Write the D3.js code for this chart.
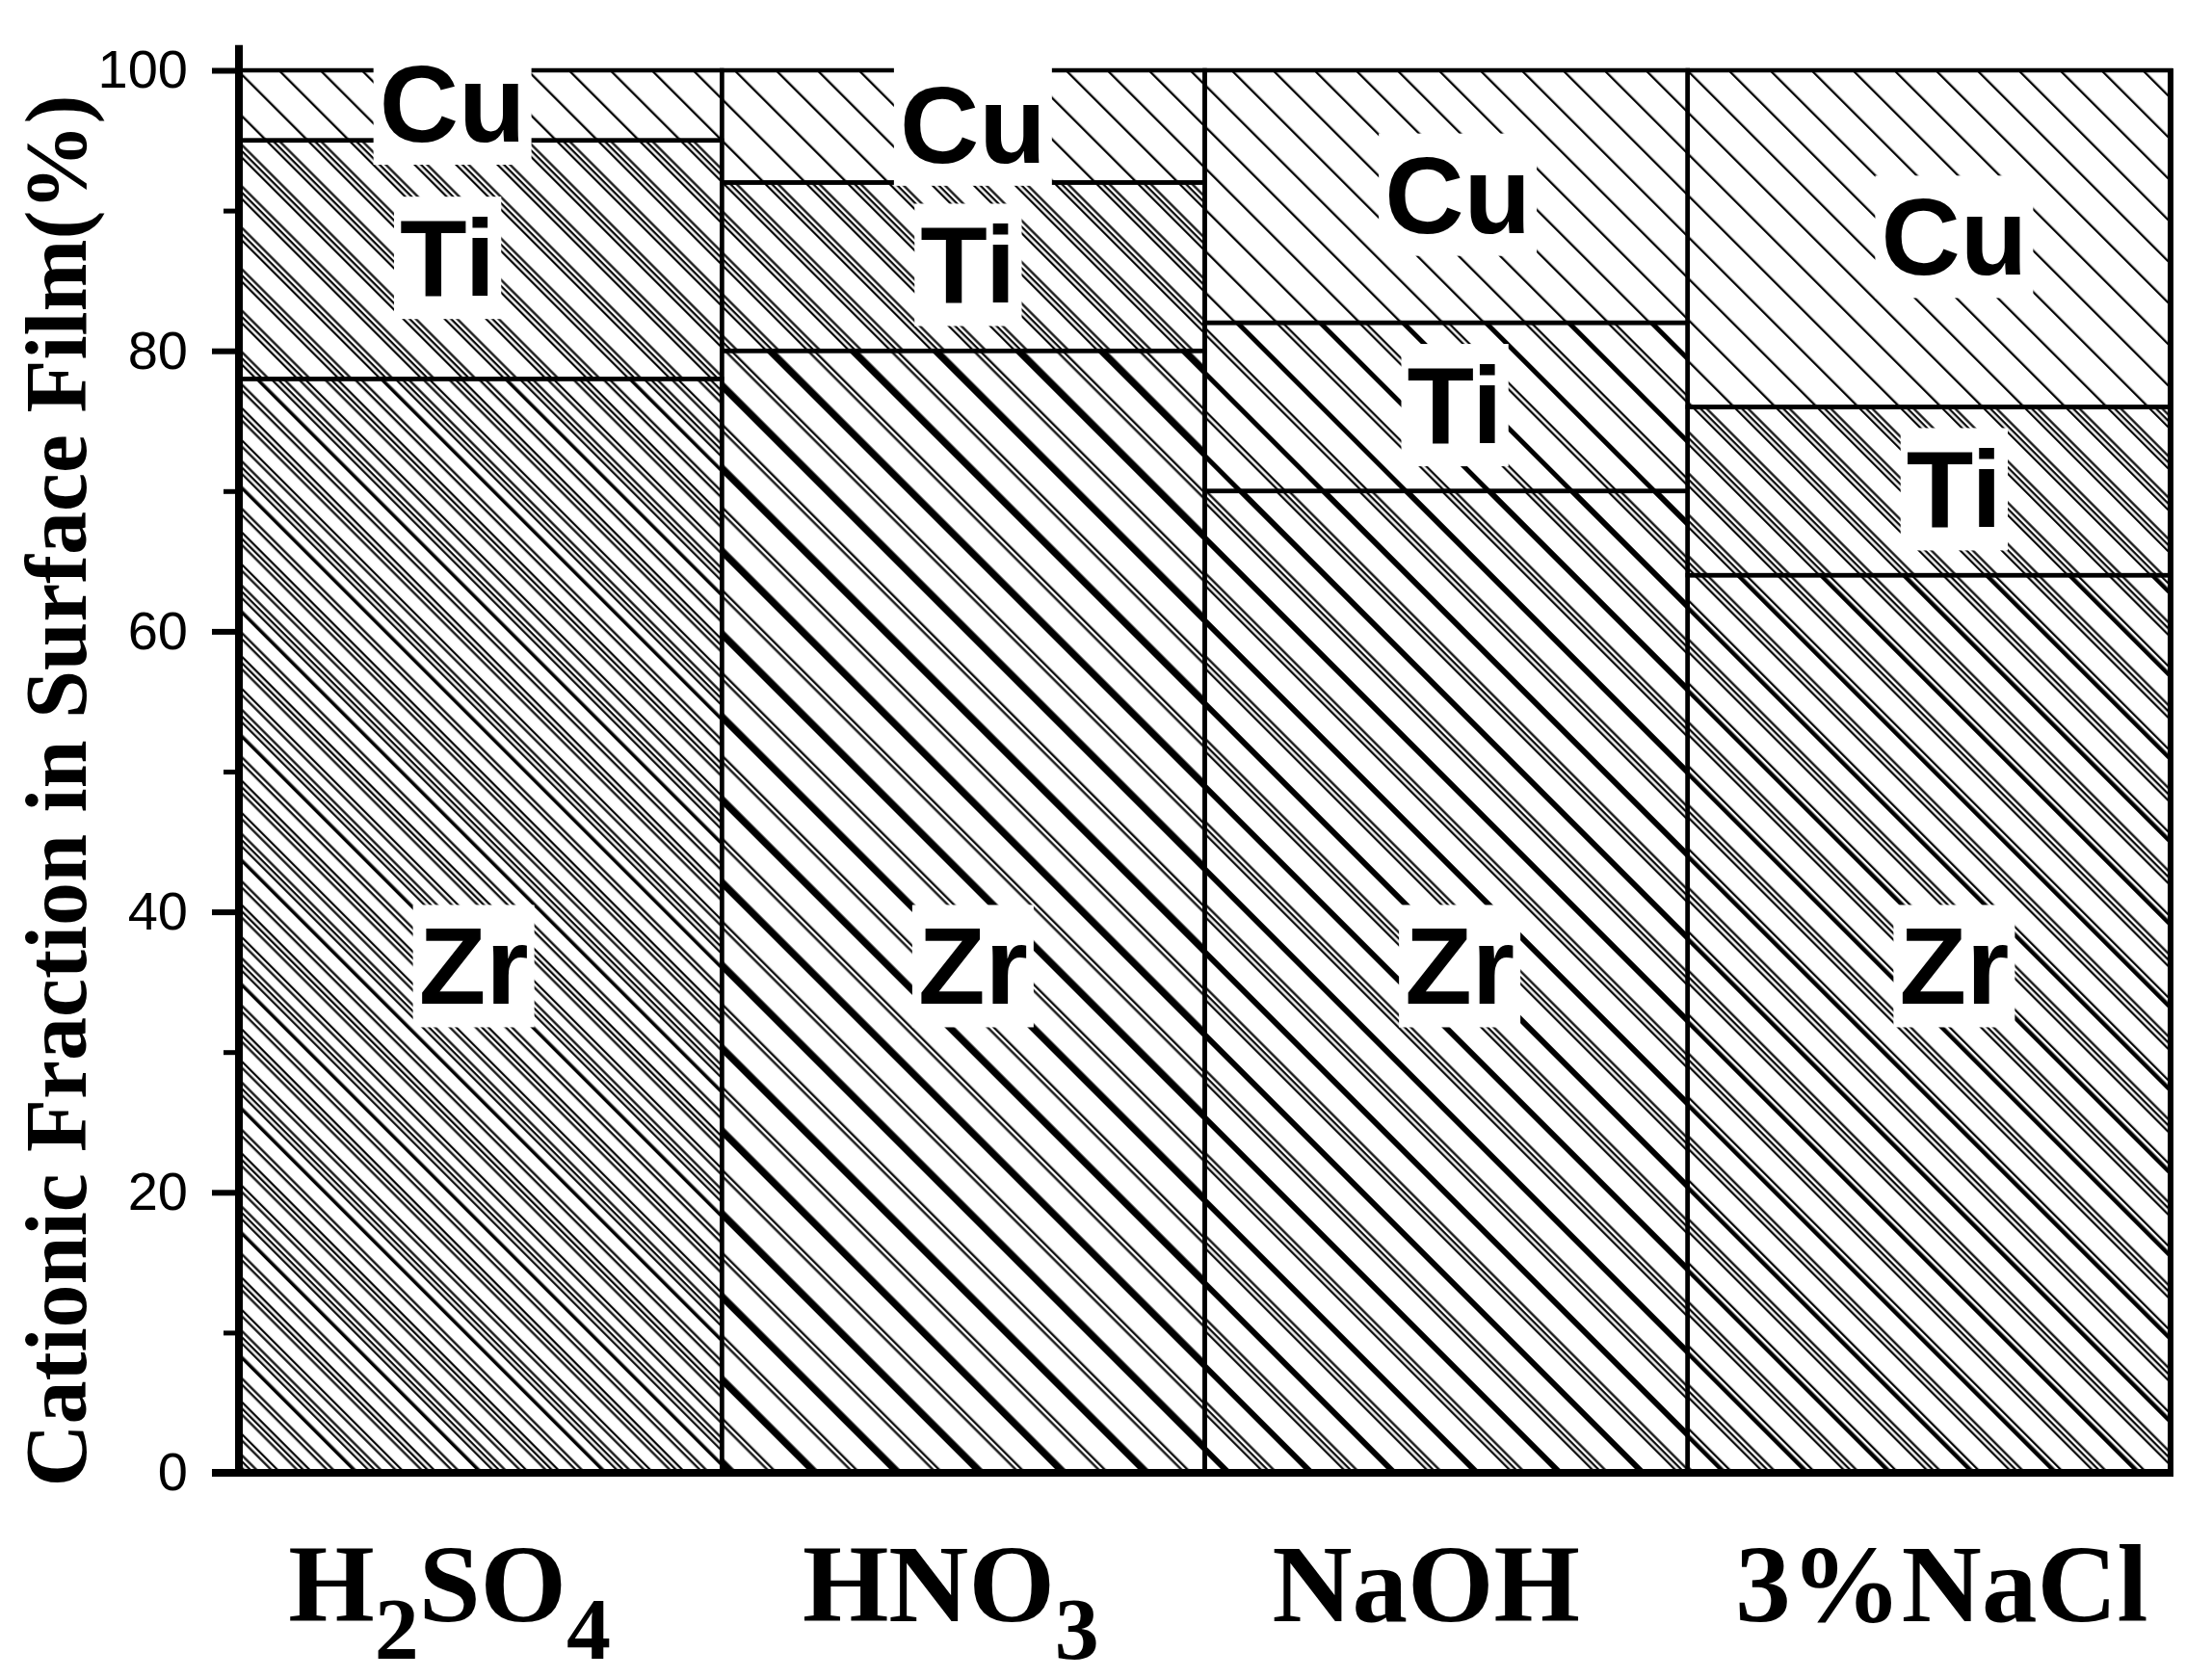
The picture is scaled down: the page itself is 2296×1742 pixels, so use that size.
<!DOCTYPE html>
<html>
<head>
<meta charset="utf-8">
<script src="https://cdn.jsdelivr.net/npm/d3@7"></script>
<style>
  body { margin: 0; background: #fff; }
</style>
</head>
<body>
<svg id="chart" width="2296" height="1742"></svg>
<script>
// data
const categories = ['H2SO4', 'HNO3', 'NaOH', '3%NaCl']
const categoryLabels = ['H_2SO_4', 'HNO_3', 'NaOH', '3%NaCl']   // _d = subscript digit
const elements = ['Zr', 'Ti', 'Cu']
const zrValues = [78, 80, 70, 64]
const tiValues = [17, 12, 12, 12]
const cuValues = [5, 8, 18, 24]
const yMajorTicks = [0, 20, 40, 60, 80, 100]
const yMinorTicks = [10, 30, 50, 70, 90]
const yTitle = 'Cationic Fraction in Surface Film(%)'

const width = 2296
const height = 1742
const margin = {top: 73, right: 43, bottom: 213, left: 248}

// small layout nudges seen in the figure
const catLabelShift = [-32, -13, -21, 13]
const segLabelShift = [
    {Zr: -7, Ti: -34, Cu: -29},
    {Zr: 10, Ti: 5, Cu: 10},
    {Zr: 14, Ti: 9, Cu: 12},
    {Zr: 26, Ti: 26, Cu: 26}
]

const svg = d3.select('#chart')
svg.append('rect').attr('width', width).attr('height', height).attr('fill', '#fff')

const x = d3.scaleBand()
    .domain(categories)
    .range([margin.left, width - margin.right])
    .padding(0)

const y = d3.scaleLinear()
    .domain([0, 100])
    .range([height - margin.bottom, margin.top])

// hatch styles: lines across a tile, [perpendicular offset, width]
const thin = 2.2
const step = 4.6
const grp = (at, n) => d3.range(n).map(k => [at + k * step, thin])
const cuHatch = {p: 30.4, lines: [[0, 2.3]]}
const hatchStyles = [
    {Zr: {p: 91.2, lines: [[0, 3.5], ...grp(11, 3), ...grp(31, 2), ...grp(50, 3), ...grp(72, 2)]},
     Ti: {p: 30.4, lines: grp(0, 3)}, Cu: cuHatch},
    {Zr: {p: 60.8, lines: [[0, 7.5], ...grp(30.4, 2)]},
     Ti: {p: 30.4, lines: grp(0, 3)}, Cu: cuHatch},
    {Zr: {p: 60.8, lines: [[0, 6], ...grp(28, 3)]},
     Ti: {p: 60.8, lines: [[0, 5], ...grp(30, 2)]}, Cu: cuHatch},
    {Zr: {p: 60.8, lines: [[0, 4.5], [7, thin], ...grp(30, 3)]},
     Ti: {p: 30.4, lines: grp(0, 3)}, Cu: cuHatch}
]

const defs = svg.append('defs')
hatchStyles.forEach((h, i) => {
    elements.forEach(key => {
        const pat = defs.append('pattern')
            .attr('id', `hatch-${i}-${key}`)
            .attr('patternUnits', 'userSpaceOnUse')
            .attr('width', h[key].p)
            .attr('height', h[key].p)
            .attr('patternTransform', 'rotate(-45)')
        pat.selectAll('rect').data(h[key].lines).enter()
            .append('rect')
            .attr('x', d => d[0])
            .attr('y', 0)
            .attr('width', d => d[1])
            .attr('height', h[key].p)
            .attr('fill', '#000')
    })
})

const rows = categories.map((c, i) => ({cat: c, idx: i, Zr: zrValues[i], Ti: tiValues[i], Cu: cuValues[i]}))
const series = d3.stack().keys(elements)(rows)

const bars = svg.append('g')
series.forEach(s => {
    bars.selectAll(null).data(s).enter()
        .append('rect')
        .attr('x', d => x(d.data.cat))
        .attr('y', d => y(d[1]))
        .attr('width', x.bandwidth())
        .attr('height', d => y(d[0]) - y(d[1]))
        .attr('fill', d => `url(#hatch-${d.data.idx}-${s.key})`)
        .attr('stroke', '#000')
        .attr('stroke-width', 4.5)
})

// labels with white boxes
const labelSize = 114
const zrLabelAt = 36
const labels = svg.append('g')
series.forEach(s => {
    s.forEach(d => {
        const v = s.key === 'Zr' ? zrLabelAt : (d[0] + d[1]) / 2
        const cx = x(d.data.cat) + x.bandwidth() / 2 + (segLabelShift[d.data.idx][s.key] || 0)
        const box = labels.append('rect').attr('fill', '#fff')
        const t = labels.append('text')
            .attr('x', cx)
            .attr('y', y(v) + labelSize * 0.33)
            .attr('text-anchor', 'middle')
            .attr('font-family', '"Liberation Sans", Arial, sans-serif')
            .attr('font-weight', 'bold')
            .attr('font-size', labelSize)
            .attr('fill', '#000')
            .text(s.key)
        const b = t.node().getBBox()
        box.attr('x', b.x - 6).attr('y', b.y).attr('width', b.width + 12).attr('height', b.height)
    })
})

// y axis
const axisG = svg.append('g').attr('transform', `translate(${margin.left},0)`)
axisG.call(d3.axisLeft(y).tickValues(yMajorTicks).tickSize(28).tickPadding(25).tickSizeOuter(0))
axisG.select('.domain').remove()
axisG.selectAll('.tick line').attr('stroke', '#000').attr('stroke-width', 6)
axisG.selectAll('.tick text')
    .attr('font-family', '"Liberation Sans", Arial, sans-serif')
    .attr('font-size', 56)
    .attr('fill', '#000')

const minorG = svg.append('g').attr('transform', `translate(${margin.left},0)`)
minorG.call(d3.axisLeft(y).tickValues(yMinorTicks).tickSize(16).tickFormat(''))
minorG.select('.domain').remove()
minorG.selectAll('.tick line').attr('stroke', '#000').attr('stroke-width', 5)

svg.append('line')
    .attr('x1', margin.left).attr('x2', margin.left)
    .attr('y1', y(0)).attr('y2', y(101.8))
    .attr('stroke', '#000').attr('stroke-width', 8)

// x axis line + right edge
svg.append('line')
    .attr('x1', margin.left - 28).attr('x2', width - margin.right + 3)
    .attr('y1', y(0)).attr('y2', y(0))
    .attr('stroke', '#000').attr('stroke-width', 8)
svg.append('line')
    .attr('x1', width - margin.right).attr('x2', width - margin.right)
    .attr('y1', y(0)).attr('y2', y(100) - 2)
    .attr('stroke', '#000').attr('stroke-width', 6)

// category labels
const catSize = 115
const subSize = 92
const subDrop = 39
const catG = svg.append('g')
categoryLabels.forEach((lab, i) => {
    const t = catG.append('text')
        .attr('x', x(categories[i]) + x.bandwidth() / 2 + catLabelShift[i])
        .attr('y', y(0) + 154)
        .attr('text-anchor', 'middle')
        .attr('font-family', '"Liberation Serif", "Times New Roman", serif')
        .attr('font-weight', 'bold')
        .attr('font-size', catSize)
        .attr('fill', '#000')
    const parts = lab.split(/(_\d)/).filter(p => p.length)
    let shifted = false
    parts.forEach(p => {
        const ts = t.append('tspan')
        if (p[0] === '_') {
            ts.attr('font-size', subSize).attr('dy', subDrop).text(p.slice(1))
            shifted = true
        } else {
            if (shifted) ts.attr('dy', -subDrop)
            shifted = false
            ts.text(p)
        }
    })
})

// y title
svg.append('text')
    .attr('transform', `translate(89,821) rotate(-90)`)
    .attr('text-anchor', 'middle')
    .attr('font-family', '"Liberation Serif", "Times New Roman", serif')
    .attr('font-weight', 'bold')
    .attr('font-size', 90)
    .attr('fill', '#000')
    .text(yTitle)
</script>
</body>
</html>
